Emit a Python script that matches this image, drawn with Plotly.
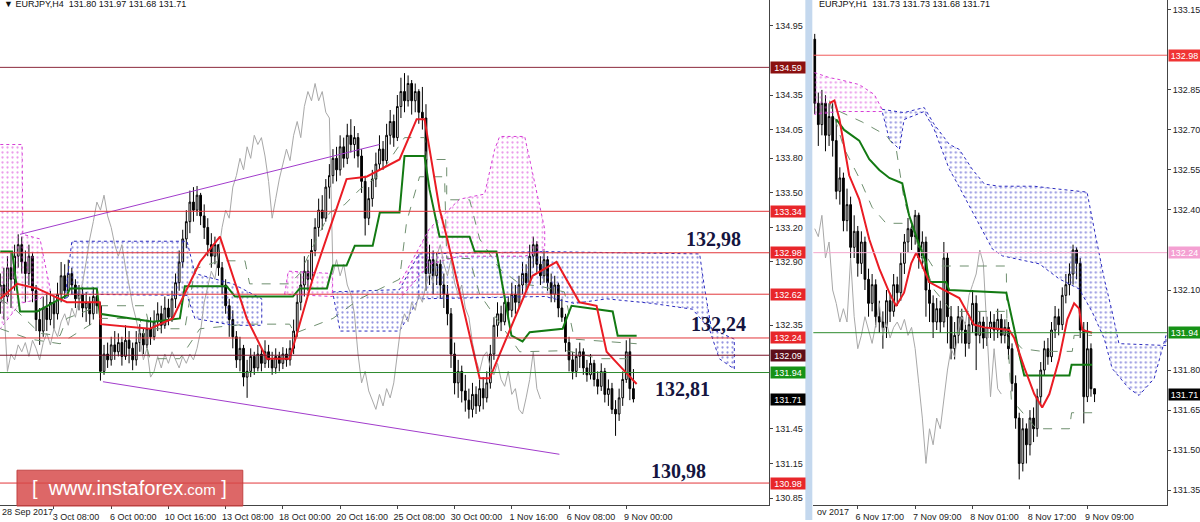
import plotly.graph_objects as go

# ================= H4 panel (left) =================
h4_tickvals = [15, 31, 47, 63, 79, 95, 111, 127, 143, 159, 175]
h4_ticktext = ["3 Oct 08:00", "6 Oct 00:00", "10 Oct 16:00", "13 Oct 08:00", "18 Oct 00:00",
               "20 Oct 16:00", "25 Oct 08:00", "30 Oct 00:00", "1 Nov 16:00", "6 Nov 08:00", "9 Nov 00:00"]
h4_yticks = [134.95, 134.35, 134.05, 133.80, 133.50, 133.20, 132.90, 132.35,
             131.45, 131.15, 130.85]
h4_open0 = 132.55
h4_close = [132.70, 132.60, 132.85, 132.75, 132.95, 133.05, 132.90, 132.80, 132.95, 132.65,
            132.40, 132.30, 132.50, 132.40, 132.55, 132.45, 132.62, 132.78, 132.65, 132.80,
            132.70, 132.58, 132.62, 132.50, 132.55, 132.45, 132.60, 132.52, 131.95, 132.10,
            132.05, 132.18, 132.12, 132.20, 132.08, 132.22, 132.15, 132.05, 132.20, 132.28,
            132.18, 132.32, 132.25, 132.38, 132.45, 132.35, 132.50, 132.42, 132.58, 132.72,
            132.90, 133.10, 133.25, 133.42, 133.35, 133.48, 133.30, 133.20, 133.05, 132.95,
            133.05, 132.85, 132.70, 132.52, 132.40, 132.25, 132.05, 132.15, 131.90, 131.95,
            132.08, 131.98, 132.10, 132.02, 132.12, 132.05, 131.98, 132.08, 132.02, 132.10,
            132.05, 132.15, 132.30, 132.55, 132.70, 132.82, 132.75, 133.00, 133.20, 133.35,
            133.28, 133.55, 133.65, 133.80, 133.70, 133.90, 133.80, 134.00, 133.92, 133.98,
            133.82, 133.60, 133.28, 133.45, 133.62, 133.75, 133.88, 133.78, 134.00, 134.12,
            133.98, 134.25, 134.38, 134.30, 134.45, 134.30, 134.38, 134.20, 134.15, 132.80,
            132.92, 132.78, 132.88, 132.70, 132.62, 132.45, 132.10, 131.85, 131.95, 131.78,
            131.70, 131.62, 131.75, 131.65, 131.80, 131.72, 131.85, 132.10, 132.35, 132.45,
            132.38, 132.55, 132.48, 132.62, 132.55, 132.70, 132.80, 132.72, 132.95, 133.05,
            132.88, 132.78, 132.92, 132.72, 132.62, 132.70, 132.50, 132.42, 132.20, 132.05,
            131.95, 132.08, 132.12, 131.98, 131.92, 132.02, 131.88, 131.82, 131.95, 131.75,
            131.80, 131.62, 131.58, 131.72, 131.88, 132.12, 131.80, 131.71]
h4_high = [132.80, 132.85, 132.95, 132.98, 133.05, 133.14, 133.12, 133.00, 133.05, 132.98,
           132.70, 132.50, 132.60, 132.62, 132.65, 132.60, 132.72, 132.90, 132.88, 132.92,
           132.85, 132.75, 132.70, 132.68, 132.64, 132.60, 132.68, 132.66, 132.55, 132.18,
           132.20, 132.25, 132.30, 132.28, 132.25, 132.35, 132.30, 132.20, 132.30, 132.36,
           132.32, 132.40, 132.42, 132.48, 132.55, 132.52, 132.60, 132.58, 132.65, 132.80,
           133.00, 133.18, 133.35, 133.52, 133.55, 133.56, 133.50, 133.40, 133.28, 133.15,
           133.12, 133.05, 132.90, 132.75, 132.58, 132.48, 132.30, 132.25, 132.18, 132.05,
           132.15, 132.12, 132.18, 132.15, 132.22, 132.18, 132.12, 132.15, 132.12, 132.16,
           132.15, 132.22, 132.40, 132.62, 132.80, 132.95, 132.92, 133.10, 133.28, 133.45,
           133.48, 133.62, 133.75, 133.88, 133.90, 134.00, 133.98, 134.10, 134.14, 134.08,
           134.02, 133.88, 133.65, 133.55, 133.70, 133.85, 134.00, 133.95, 134.10, 134.22,
           134.18, 134.35, 134.50, 134.54, 134.52, 134.48, 134.45, 134.40, 134.42, 134.27,
           133.05, 133.00, 132.98, 132.92, 132.80, 132.70, 132.50, 132.20, 132.05, 132.00,
           131.92, 131.80, 131.85, 131.82, 131.88, 131.90, 131.95, 132.18, 132.42, 132.55,
           132.52, 132.62, 132.60, 132.72, 132.70, 132.78, 132.90, 132.88, 133.05, 133.12,
           133.08, 132.95, 133.00, 132.95, 132.80, 132.78, 132.72, 132.58, 132.45, 132.25,
           132.12, 132.15, 132.20, 132.15, 132.05, 132.10, 132.05, 131.95, 132.02, 131.98,
           131.88, 131.85, 131.70, 131.80, 131.95, 132.22, 132.24, 131.97]
h4_low = [132.45, 132.40, 132.55, 132.50, 132.65, 132.85, 132.80, 132.55, 132.70, 132.55,
          132.30, 132.18, 132.25, 132.30, 132.35, 132.32, 132.40, 132.55, 132.58, 132.60,
          132.62, 132.50, 132.48, 132.42, 132.38, 132.35, 132.40, 132.45, 131.87, 131.92,
          131.98, 132.00, 132.05, 132.08, 132.00, 132.05, 132.02, 131.96, 132.00, 132.12,
          132.10, 132.15, 132.18, 132.22, 132.30, 132.28, 132.32, 132.35, 132.38, 132.50,
          132.65, 132.85, 133.02, 133.15, 133.25, 133.30, 133.22, 133.10, 132.95, 132.85,
          132.88, 132.78, 132.62, 132.45, 132.25, 132.15, 131.98, 131.95, 131.82, 131.72,
          131.90, 131.92, 131.95, 131.95, 131.98, 131.98, 131.92, 131.93, 131.95, 131.97,
          131.99, 132.00, 132.10, 132.25, 132.48, 132.60, 132.65, 132.70, 132.95, 133.12,
          133.18, 133.25, 133.45, 133.58, 133.60, 133.65, 133.72, 133.75, 133.85, 133.80,
          133.72, 133.50, 133.13, 133.22, 133.38, 133.55, 133.70, 133.70, 133.75, 133.92,
          133.90, 133.95, 134.15, 134.20, 134.25, 134.18, 134.20, 134.10, 134.05, 132.65,
          132.70, 132.62, 132.70, 132.58, 132.50, 132.35, 131.98, 131.75, 131.72, 131.68,
          131.60, 131.54, 131.55, 131.58, 131.60, 131.62, 131.68, 131.80, 132.05, 132.25,
          132.30, 132.35, 132.40, 132.42, 132.45, 132.50, 132.62, 132.65, 132.70, 132.85,
          132.80, 132.70, 132.72, 132.65, 132.55, 132.55, 132.42, 132.38, 132.12, 131.95,
          131.88, 131.90, 131.98, 131.92, 131.86, 131.88, 131.82, 131.75, 131.78, 131.68,
          131.65, 131.58, 131.39, 131.52, 131.65, 131.85, 131.70, 131.68]

h4_tenkan_x = [0, 4.7, 10.3, 18.6, 27.8, 28.1, 41.8, 48.2, 55.8, 61.4, 68.9, 74.5, 80.9, 87.3, 96.8,
               102.4, 111.6, 116.4, 118.6, 122.8, 124.8, 134.0, 136.8, 148.8, 155.5, 161.9, 166.7,
               169.5, 173.1, 177.9]
h4_tenkan_y = [132.58, 132.71, 132.67, 132.55, 132.55, 132.36, 132.32, 132.41, 132.90, 133.12, 132.41,
               132.06, 132.06, 132.75, 133.62, 133.64, 133.79, 134.14, 134.14, 133.36, 133.12, 131.89,
               131.89, 132.78, 132.90, 132.55, 132.52, 132.12, 132.00, 131.84]
h4_kijun_x = [0, 3.3, 5.5, 10.3, 18.6, 19.5, 27.0, 27.8, 42.7, 50.2, 51.6, 63.3, 65.6, 81.8, 83.7,
              91.3, 93.0, 96.8, 99.1, 104.1, 106.1, 111.6, 113.0, 118.6, 120.0, 122.8, 131.2, 132.6,
              138.7, 142.9, 146.0, 148.0, 157.2, 159.7, 171.2, 172.6, 177.9]
h4_kijun_y = [132.99, 132.99, 132.47, 132.47, 132.61, 132.67, 132.67, 132.45, 132.38, 132.41, 132.69,
              132.69, 132.60, 132.60, 132.67, 132.67, 132.87, 132.87, 133.04, 133.04, 133.33, 133.33,
              133.82, 133.82, 133.53, 133.12, 133.12, 132.99, 132.99, 132.26, 132.21, 132.29, 132.32,
              132.52, 132.47, 132.26, 132.26]
h4_dash1_x = [0, 4.1, 11.1, 16.7, 18.6, 27.9, 40.4, 41.8, 51.6, 54.4, 61.4, 68.4, 69.7, 80.9, 83.7,
              92.1, 96.3, 100.5, 106.1, 113.0, 118.6, 119.2, 124.8, 124.8, 131.2, 134.0, 139.6, 145.2,
              150.8, 157.7, 160.5, 177.9]
h4_dash1_y = [132.58, 132.49, 132.28, 132.26, 132.41, 132.52, 132.52, 132.32, 132.32, 132.84, 132.91,
              132.91, 132.71, 132.71, 132.80, 133.33, 133.40, 133.53, 133.66, 133.98, 133.98, 133.79,
              133.79, 133.44, 133.44, 133.10, 132.84, 132.71, 132.69, 132.64, 132.23, 132.19]
h4_dash2_x = [0, 8.3, 16.7, 27.9, 39.0, 41.8, 50.2, 55.8, 68.9, 80.9, 82.3, 93.0, 100.5, 111.6, 113.6,
              117.2, 124.2, 124.8, 131.2, 134.0, 145.2, 158.3, 167.5, 177.9]
h4_dash2_y = [132.32, 132.23, 132.19, 132.41, 132.41, 132.06, 132.06, 132.32, 132.36, 132.36, 132.28,
              132.41, 132.58, 132.75, 133.25, 133.64, 133.64, 132.93, 132.93, 132.62, 132.12, 132.13,
              132.06, 132.06]

# Kumo pieces: (top x, top y, bottom x, bottom y)
h4_cloud_pink1 = ([0, 6.1, 6.3, 11.1, 13.9], [133.92, 133.92, 133.14, 133.10, 132.67],
                  [0, 5.5, 11.1, 13.9], [132.32, 132.54, 132.58, 132.65])
h4_cloud_blue1 = ([18.1, 20.0, 52.2, 54.4, 65.0, 73.1], [132.58, 133.08, 133.08, 132.80, 132.71, 132.58],
                  [18.1, 20.0, 52.2, 54.4, 65.0, 73.1], [132.58, 132.62, 132.61, 132.41, 132.35, 132.35])
h4_cloud_pink2 = ([79.5, 80.5, 92.9], [132.62, 132.82, 132.80],
                  [79.5, 92.9], [132.62, 132.60])
h4_cloud_blue2 = ([92.9, 111.6, 117.0], [132.64, 132.66, 132.97],
                  [92.9, 95.0, 111.6, 117.0], [132.64, 132.30, 132.30, 132.58])
h4_cloud_blue3 = ([117.2, 152.2, 195.5, 196.9, 198.8, 205.2], [132.97, 132.99, 132.97, 132.67, 132.32, 132.23],
                  [117.2, 152.2, 160.5, 169.5, 182.3, 193.5, 198.2, 201.0, 205.2],
                  [132.58, 132.60, 132.54, 132.58, 132.54, 132.49, 132.32, 132.06, 131.97])
h4_cloud_pink3 = ([111.6, 120.0, 128.4, 135.4, 138.2, 139.6, 146.6, 149.4, 152.2],
                  [132.71, 133.19, 133.445, 133.49, 133.877, 133.99, 133.99, 133.575, 133.185],
                  [111.6, 120.0, 128.4, 146.6, 152.2], [132.58, 132.88, 132.95, 132.95, 133.01])

h4_trend_up_x = [5.5, 106.0]
h4_trend_up_y = [133.14, 133.92]
h4_trend_dn_x = [28.7, 156.3]
h4_trend_dn_y = [131.86, 131.23]

h4_levels = [134.59, 133.34, 132.98, 132.62, 132.24, 132.09, 131.94, 130.98]
h4_level_colors = ["#8c2a3c", "#e2363a", "#e2363a", "#e2363a", "#e2363a", "#7a1228", "#2e8b2e", "#e2363a"]
h4_tags = [134.59, 133.34, 132.98, 132.62, 132.24, 132.09, 131.94, 131.71, 130.98]
h4_tag_colors = ["#8b1010", "#e8262a", "#e8262a", "#e8262a", "#e8262a", "#5e0e1a", "#169216", "#000000", "#e8262a"]

big_labels = ["132,98", "132,24", "132,81", "130,98"]

# ================= H1 panel (right) =================
h1_tickvals = [12, 28, 44, 60, 76]
h1_ticktext = ["6 Nov 17:00", "7 Nov 09:00", "8 Nov 01:00", "8 Nov 17:00", "9 Nov 09:00"]
h1_yticks = [133.15, 132.85, 132.70, 132.55, 132.40, 132.10, 131.80,
             131.65, 131.50, 131.35]
h1_open0 = 133.04
h1_close = [132.80, 132.72, 132.80, 132.68, 132.75, 132.66, 132.47, 132.52, 132.36, 132.42,
            132.26, 132.32, 132.20, 132.28, 132.14, 132.05, 132.12, 132.00, 131.98, 131.96,
            132.06, 132.02, 132.12, 132.09, 132.20, 132.28, 132.33, 132.30, 132.38, 132.22,
            132.28, 132.10, 132.05, 131.98, 132.03, 131.98, 132.22, 132.00, 131.88, 131.93,
            132.00, 131.95, 131.90, 131.97, 132.05, 131.93, 131.98, 131.92, 131.96, 131.98,
            131.95, 131.99, 131.93, 131.96, 131.88, 131.75, 131.62, 131.45, 131.58, 131.52,
            131.62, 131.58, 131.70, 131.80, 131.88, 131.85, 131.95, 132.00, 131.97, 132.08,
            132.12, 132.16, 132.25, 132.20, 131.95, 131.70, 131.88, 131.73, 131.71]
h1_high = [133.06, 132.84, 132.85, 132.83, 132.80, 132.80, 132.74, 132.56, 132.54, 132.48,
           132.45, 132.38, 132.34, 132.32, 132.30, 132.18, 132.16, 132.14, 132.06, 132.02,
           132.10, 132.09, 132.16, 132.15, 132.24, 132.31, 132.37, 132.36, 132.40, 132.39,
           132.32, 132.30, 132.14, 132.08, 132.07, 132.06, 132.28, 132.24, 132.04, 131.98,
           132.04, 132.03, 131.98, 132.00, 132.10, 132.08, 132.02, 132.00, 132.00, 132.02,
           132.01, 132.03, 132.01, 131.99, 131.98, 131.90, 131.78, 131.64, 131.62, 131.60,
           131.65, 131.66, 131.73, 131.83, 131.91, 131.92, 131.98, 132.04, 132.03, 132.11,
           132.16, 132.20, 132.27, 132.26, 132.22, 131.98, 131.98, 131.90, 131.73]
h1_low = [132.76, 132.64, 132.68, 132.62, 132.64, 132.60, 132.44, 132.42, 132.32, 132.32,
          132.22, 132.22, 132.15, 132.16, 132.10, 132.00, 132.02, 131.96, 131.94, 131.88,
          131.92, 131.98, 132.00, 132.04, 132.06, 132.16, 132.24, 132.25, 132.27, 132.18,
          132.18, 132.00, 131.98, 131.92, 131.95, 131.94, 131.96, 131.90, 131.84, 131.84,
          131.90, 131.90, 131.85, 131.88, 131.94, 131.80, 131.90, 131.88, 131.89, 131.92,
          131.91, 131.92, 131.90, 131.90, 131.84, 131.72, 131.58, 131.39, 131.42, 131.45,
          131.48, 131.53, 131.55, 131.67, 131.78, 131.82, 131.83, 131.92, 131.93, 131.95,
          132.05, 132.08, 132.12, 132.14, 131.92, 131.60, 131.68, 131.70, 131.68]

h1_tenkan_x = [4.1, 5.5, 6.9, 9.6, 12.4, 15.2, 18.0, 20.8, 22.7, 24.9, 26.9, 28.3, 29.7, 31.9, 36.1,
               40.3, 44.4, 47.2, 54.2, 55.6, 58.4, 61.2, 63.4, 65.4, 68.1, 70.4, 72.3, 73.7, 74.6, 77.3]
h1_tenkan_y = [132.80, 132.81, 132.74, 132.53, 132.44, 132.29, 132.18, 132.09, 132.04, 132.09, 132.20,
               132.24, 132.20, 132.13, 132.10, 132.07, 131.97, 131.96, 131.95, 131.92, 131.81, 131.71,
               131.66, 131.71, 131.84, 131.99, 132.05, 132.03, 131.95, 131.94]
h1_kijun_x = [6.0, 8.2, 12.4, 15.2, 18.0, 20.8, 24.4, 26.3, 29.1, 31.1, 31.9, 36.6, 37.5, 53.4, 55.6,
              57.0, 58.4, 71.0, 71.6, 77.3]
h1_kijun_y = [132.74, 132.70, 132.66, 132.59, 132.55, 132.52, 132.50, 132.38, 132.27, 132.20, 132.13,
              132.13, 132.10, 132.09, 131.955, 131.86, 131.78, 131.78, 131.82, 131.82]
h1_dash1_x = [4.1, 8.2, 12.4, 16.0, 19.9, 24.4, 27.2, 29.1, 32.8, 53.4, 53.6, 57.8, 63.4, 71.8, 72.3, 77.3]
h1_dash1_y = [132.81, 132.63, 132.52, 132.41, 132.35, 132.35, 132.33, 132.27, 132.19, 132.19, 131.94,
              131.88, 131.87, 131.87, 131.93, 131.93]
h1_dash2_x = [6.8, 13.2, 19.9, 22.7, 24.9, 29.1, 33.3, 38.3, 53.4, 54.8, 61.8, 71.0, 71.6, 77.5]
h1_dash2_y = [132.77, 132.73, 132.68, 132.63, 132.44, 132.25, 132.10, 132.02, 132.02, 131.69, 131.58,
              131.58, 131.64, 131.64]

h1_cloud_pink = ([-0.1, 4.1, 6.8, 12.4, 16.6, 18.8], [132.915, 132.896, 132.889, 132.87, 132.833, 132.777],
                 [-0.1, 6.8, 12.4, 18.8], [132.758, 132.769, 132.77, 132.769])
h1_cloud_blue = ([18.8, 24.9, 30.5, 33.3, 37.5, 40.3, 43.9, 47.3, 51.4, 61.2, 68.1, 75.9, 77.9, 80.7,
                  82.9, 84.8, 97.9],
                 [132.777, 132.765, 132.784, 132.721, 132.646, 132.627, 132.553, 132.497, 132.489, 132.489,
                  132.478, 132.467, 132.329, 132.142, 132.019, 131.899, 131.892],
                 [18.8, 20.8, 23.6, 24.9, 30.5, 33.3, 37.5, 39.4, 44.4, 49.5, 52.3, 62.6, 68.1, 73.7, 77.3,
                  80.7, 82.9, 87.6, 90.4, 94.6, 97.9],
                 [132.769, 132.665, 132.627, 132.739, 132.769, 132.702, 132.553, 132.508, 132.385, 132.254,
                  132.228, 132.198, 132.142, 132.104, 132.019, 131.918, 131.806, 131.731, 131.705, 131.768,
                  131.929])

h1_levels = [132.98, 132.24, 131.94]
h1_level_colors = ["#f05a5a", "#f2a6cc", "#2e8b2e"]
h1_tags = [132.98, 132.24, 131.94, 131.71]
h1_tag_colors = ["#f03434", "#f4a0d2", "#169216", "#000000"]

# ================= figure =================
W, H = 1200, 522
def px(v):
    return v / W
def py(v):
    return 1 - v / H

fig = go.Figure()

PINK = "#d63cd6"
BLUE = "#2b2bbf"

def add_cloud(piece, color, xa, ya):
    tx, ty, bx, by = piece
    fig.add_trace(go.Scatter(
        x=list(tx) + list(bx)[::-1], y=list(ty) + list(by)[::-1],
        mode="lines", fill="toself", fillcolor="rgba(255,255,255,0)",
        fillpattern=dict(shape=".", fgcolor=color, bgcolor="rgba(255,255,255,0)", size=5, solidity=0.16),
        line=dict(color=color, width=1, dash="dot"),
        xaxis=xa, yaxis=ya, showlegend=False, hoverinfo="skip"))

for pc in (h4_cloud_blue1, h4_cloud_blue2, h4_cloud_blue3):
    add_cloud(pc, BLUE, "x", "y")
for pc in (h4_cloud_pink1, h4_cloud_pink2, h4_cloud_pink3):
    add_cloud(pc, PINK, "x", "y")
add_cloud(h1_cloud_blue, BLUE, "x2", "y2")
add_cloud(h1_cloud_pink, PINK, "x2", "y2")

def line(x, y, color, width, xa, ya, dash="solid"):
    fig.add_trace(go.Scatter(x=x, y=y, mode="lines", line=dict(color=color, width=width, dash=dash),
                             xaxis=xa, yaxis=ya, showlegend=False, hoverinfo="skip"))

# chikou span = closes shifted back 26 bars
h4_chikou_x = list(range(len(h4_close) - 26))
h4_chikou_y = h4_close[26:]
h1_chikou_x = list(range(len(h1_close) - 26))
h1_chikou_y = h1_close[26:]

line(h4_chikou_x, h4_chikou_y, "#a8a8a8", 1, "x", "y")
line(h1_chikou_x, h1_chikou_y, "#a8a8a8", 1, "x2", "y2")
line(h4_dash1_x, h4_dash1_y, "#6f8f6f", 1, "x", "y", "dash")
line(h4_dash2_x, h4_dash2_y, "#6f8f6f", 1, "x", "y", "dash")
line(h1_dash1_x, h1_dash1_y, "#6f8f6f", 1, "x2", "y2", "dash")
line(h1_dash2_x, h1_dash2_y, "#6f8f6f", 1, "x2", "y2", "dash")

def candles(o0, c, h, l, xa, ya):
    o = [o0] + c[:-1]
    fig.add_trace(go.Candlestick(
        x=list(range(len(c))), open=o, high=h, low=l, close=c,
        increasing=dict(line=dict(color="black", width=1), fillcolor="white"),
        decreasing=dict(line=dict(color="black", width=1), fillcolor="black"),
        whiskerwidth=0, xaxis=xa, yaxis=ya, showlegend=False, hoverinfo="skip"))

candles(h4_open0, h4_close, h4_high, h4_low, "x", "y")
candles(h1_open0, h1_close, h1_high, h1_low, "x2", "y2")

line(h4_kijun_x, h4_kijun_y, "#137a13", 2, "x", "y")
line(h4_tenkan_x, h4_tenkan_y, "#ea1c24", 2, "x", "y")
line(h1_kijun_x, h1_kijun_y, "#137a13", 2, "x2", "y2")
line(h1_tenkan_x, h1_tenkan_y, "#ea1c24", 2, "x2", "y2")

line(h4_trend_up_x, h4_trend_up_y, "#a23ccc", 1, "x", "y")
line(h4_trend_dn_x, h4_trend_dn_y, "#a23ccc", 1, "x", "y")

shapes = []
for lv, col in zip(h4_levels, h4_level_colors):
    shapes.append(dict(type="line", xref="x domain", yref="y", x0=0, x1=1, y0=lv, y1=lv,
                       line=dict(color=col, width=1), layer="above"))
for lv, col in zip(h1_levels, h1_level_colors):
    shapes.append(dict(type="line", xref="x2 domain", yref="y2", x0=0, x1=1, y0=lv, y1=lv,
                       line=dict(color=col, width=1), layer="above"))
# separator between the two charts
shapes.append(dict(type="rect", xref="paper", yref="paper", x0=px(806), x1=px(813), y0=0, y1=1,
                   fillcolor="#c4d8ee", line=dict(width=0), layer="above"))
# watermark box
shapes.append(dict(type="rect", xref="paper", yref="paper", x0=px(17), x1=px(243), y0=py(508), y1=py(472),
                   fillcolor="rgba(214,70,70,0.82)", line=dict(color="rgba(190,60,60,0.9)", width=1),
                   layer="above"))

ann = []
for v, col in zip(h4_tags, h4_tag_colors):
    ann.append(dict(xref="paper", yref="y", x=px(771), y=v, xanchor="left", yanchor="middle",
                    text="%.2f" % v, showarrow=False, bgcolor=col, width=34, height=11, borderpad=0,
                    font=dict(family="Liberation Sans, Arial", size=9, color="white")))
for v, col in zip(h1_tags, h1_tag_colors):
    ann.append(dict(xref="paper", yref="y2", x=px(1169), y=v, xanchor="left", yanchor="middle",
                    text="%.2f" % v, showarrow=False, bgcolor=col, width=31, height=11, borderpad=0,
                    font=dict(family="Liberation Sans, Arial", size=9, color="white")))

big_pos = [(714, 240), (719, 325), (683, 390), (679, 473)]
for t, (bx, by) in zip(big_labels, big_pos):
    ann.append(dict(xref="paper", yref="paper", x=px(bx), y=py(by), xanchor="center", yanchor="middle",
                    text="<b>%s</b>" % t, showarrow=False,
                    font=dict(family="Liberation Serif, Times New Roman", size=20, color="#15153f")))

ann.append(dict(xref="paper", yref="paper", x=px(2), y=py(4), xanchor="left", yanchor="middle",
                text="\u25bc EURJPY,H4  131.80 131.97 131.68 131.71", showarrow=False,
                font=dict(family="Liberation Sans, Arial", size=9, color="#111")))
ann.append(dict(xref="paper", yref="paper", x=px(818), y=py(4), xanchor="left", yanchor="middle",
                text="EURJPY,H1  131.73 131.73 131.68 131.71", showarrow=False,
                font=dict(family="Liberation Sans, Arial", size=9, color="#111")))
ann.append(dict(xref="paper", yref="paper", x=px(0), y=py(514), xanchor="left", yanchor="middle",
                text="28 Sep 2017", showarrow=False,
                font=dict(family="Liberation Sans, Arial", size=9, color="#222")))
ann.append(dict(xref="paper", yref="paper", x=px(816), y=py(514), xanchor="left", yanchor="middle",
                text="ov 2017", showarrow=False,
                font=dict(family="Liberation Sans, Arial", size=9, color="#222")))
ann.append(dict(xref="paper", yref="paper", x=px(130), y=py(490), xanchor="center", yanchor="middle",
                text="[  www.instaforex<span style='font-size:15px'>.com</span> ]", showarrow=False,
                font=dict(family="Liberation Sans, Arial", size=20, color="white")))

tickfont = dict(family="Liberation Sans, Arial", size=9, color="#222")
axcommon = dict(showgrid=False, zeroline=False, showline=True, linecolor="#444", linewidth=1,
                ticks="outside", ticklen=3, tickcolor="#444", tickfont=tickfont, fixedrange=True)

fig.update_layout(
    width=W, height=H, autosize=False,
    margin=dict(l=0, r=0, t=0, b=0),
    paper_bgcolor="white", plot_bgcolor="white",
    showlegend=False,
    shapes=shapes, annotations=ann,
    xaxis=dict(domain=[0, px(770)], range=[-0.084, 215.0], anchor="y",
               tickmode="array", tickvals=h4_tickvals, ticktext=h4_ticktext, ticklabelshift=22,
               rangeslider=dict(visible=False), **axcommon),
    yaxis=dict(domain=[py(507), 1], range=[130.789, 135.175], anchor="x", side="right",
               tickmode="array", tickvals=h4_yticks, ticktext=["%.2f" % v for v in h4_yticks],
               **axcommon),
    xaxis2=dict(domain=[px(814), px(1168)], range=[-0.39, 98.2], anchor="y2",
                tickmode="array", tickvals=h1_tickvals, ticktext=h1_ticktext, ticklabelshift=22,
                rangeslider=dict(visible=False), **axcommon),
    yaxis2=dict(domain=[py(507), 1], range=[131.294, 133.187], anchor="x2", side="right",
                tickmode="array", tickvals=h1_yticks, ticktext=["%.2f" % v for v in h1_yticks],
                **axcommon),
)

fig.write_html("out.html", config={"displayModeBar": False},
               post_script="document.body.style.margin='0';document.body.style.overflow='hidden';")
